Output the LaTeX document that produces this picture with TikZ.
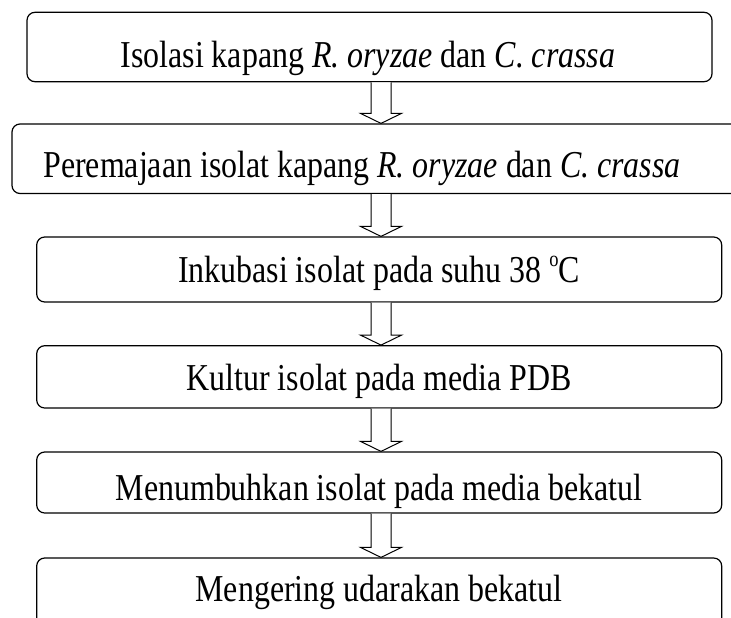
\documentclass[tikz,border=0pt]{standalone}
\usepackage{fontspec}
\setmainfont{Liberation Serif}[FakeStretch=0.84]
\newcommand{\degsup}{\raisebox{0.42em}{\fontsize{22}{22}\selectfont o}}
\begin{document}
\begin{tikzpicture}[x=1pt,y=-1pt,
  stepbox/.style={draw,line width=1.2pt,rounded corners=8pt,inner sep=0pt,anchor=center},
  steptext/.style={inner sep=0pt,anchor=base,font=\fontsize{38}{44}\selectfont},
  barrow/.style={draw,line width=1pt,fill=white,line join=miter}]
\useasboundingbox (0,0) rectangle (731,618);
\clip (0,0) rectangle (731,618);
\coordinate (ax) at (381,0);
\node[stepbox,minimum width=685pt,minimum height=69.4pt] (b1) at (369.5,47) {};
\node[stepbox,minimum width=733pt,minimum height=69.5pt] (b2) at (378.5,158.75) {};
\node[stepbox,minimum width=685pt,minimum height=65pt] (b3) at (379.2,269.5) {};
\node[stepbox,minimum width=685pt,minimum height=62.3pt] (b4) at (379.2,376.85) {};
\node[stepbox,minimum width=685pt,minimum height=61pt] (b5) at (379.2,482.5) {};
\node[stepbox,minimum width=685pt,minimum height=70pt] (b6) at (379.2,593) {};
\node[steptext] (t1) at (368,67) {Isolasi kapang \textit{R. oryzae} dan \textit{C. crassa}};
\node[steptext] (t2) at (362,177) {Peremajaan isolat kapang \textit{R. oryzae} dan \textit{C. crassa}};
\node[steptext] (t3) at (379,282) {Inkubasi isolat pada suhu 38 \degsup C};
\node[steptext] (t4) at (379,390) {Kultur isolat pada media PDB};
\node[steptext] (t5) at (379,500) {Menumbuhkan isolat pada media bekatul};
\node[steptext] (t6) at (379,601) {Mengering udarakan bekatul};
\newcommand{\blockarrow}[2]{%
  \path (#1.south -| ax) coordinate (s) (#2.north -| ax) coordinate (e);
  \draw[barrow] ([xshift=-10pt]s) -- ([xshift=-10pt,yshift=10pt]e) -- ([xshift=-20.5pt,yshift=10pt]e) -- (e) -- ([xshift=20.5pt,yshift=10pt]e) -- ([xshift=10pt,yshift=10pt]e) -- ([xshift=10pt]s);}
\blockarrow{b1}{b2}
\blockarrow{b2}{b3}
\blockarrow{b3}{b4}
\blockarrow{b4}{b5}
\blockarrow{b5}{b6}
\end{tikzpicture}
\end{document}
